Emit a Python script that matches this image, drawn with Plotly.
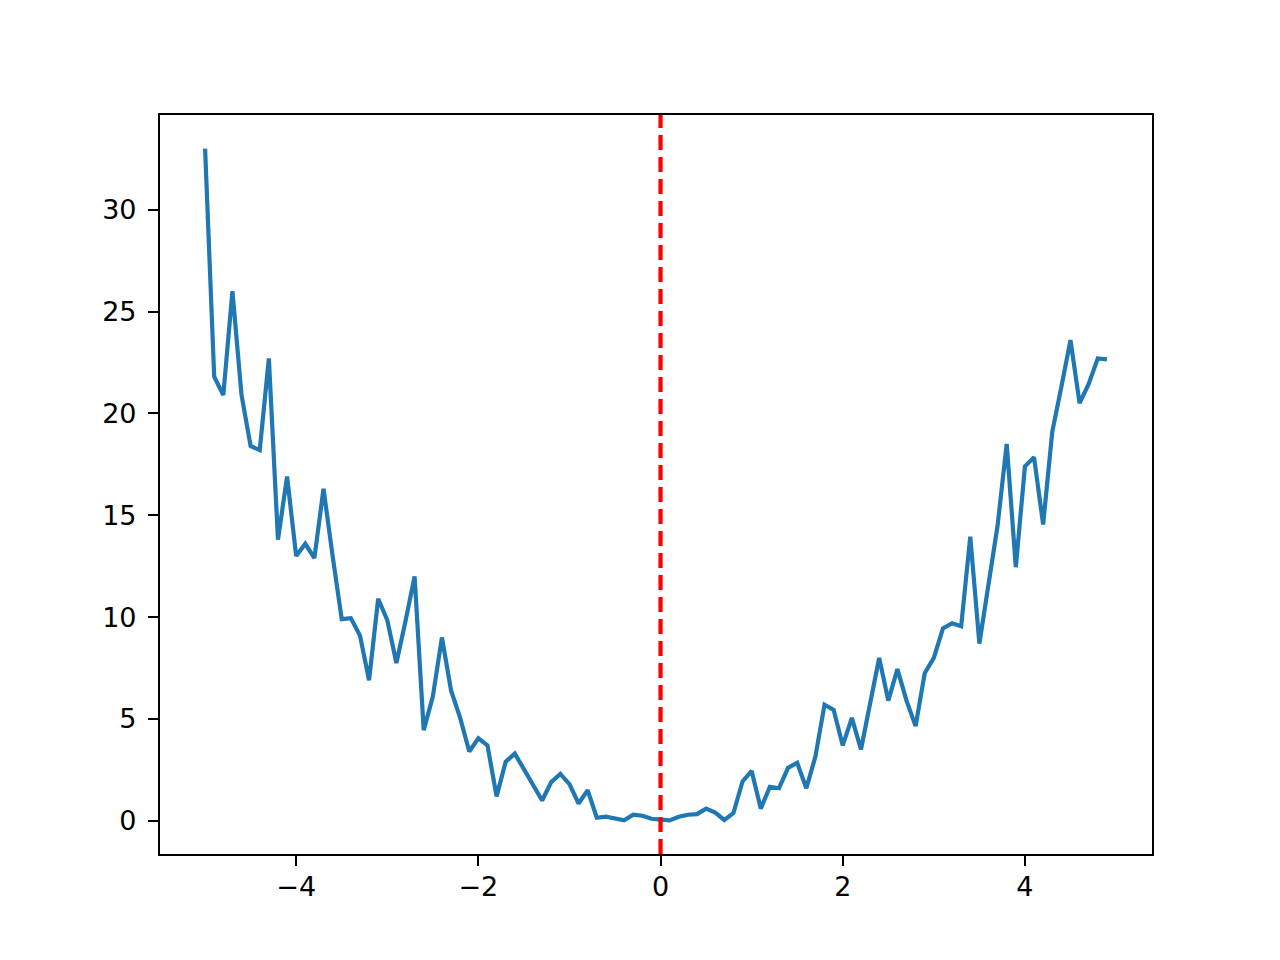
import numpy as np
import plotly.graph_objects as go

# x samples: -5.0 .. 4.9, step 0.1
x_vals = np.round(np.arange(-5.0, 5.0, 0.1), 1)

# noisy values
y_vals = [
    33.0, 21.8, 20.9, 26.0, 20.9, 18.4, 18.2, 22.7, 13.8, 16.9,   # -5.0 .. -4.1
    13.0, 13.6, 12.9, 16.3, 13.0, 9.9, 9.95, 9.1, 6.9, 10.9,      # -4.0 .. -3.1
    9.85, 7.75, 9.8, 12.0, 4.45, 6.1, 9.0, 6.4, 5.05, 3.4,        # -3.0 .. -2.1
    4.05, 3.7, 1.2, 2.9, 3.3, 2.5, 1.75, 1.0, 1.9, 2.3,           # -2.0 .. -1.1
    1.8, 0.85, 1.5, 0.15, 0.2, 0.1, 0.03, 0.3, 0.25, 0.1,         # -1.0 .. -0.1
    0.05, 0.02, 0.2, 0.3, 0.33, 0.6, 0.4, 0.04, 0.38, 1.93,       # 0.0 .. 0.9
    2.45, 0.6, 1.67, 1.6, 2.6, 2.85, 1.6, 3.15, 5.7, 5.45,        # 1.0 .. 1.9
    3.7, 5.05, 3.5, 5.8, 8.0, 5.9, 7.45, 5.9, 4.65, 7.25,         # 2.0 .. 2.9
    8.0, 9.45, 9.7, 9.55, 13.95, 8.7, 11.65, 14.5, 18.5, 12.45,   # 3.0 .. 3.9
    17.4, 17.85, 14.55, 19.1, 21.3, 23.6, 20.5, 21.45, 22.7, 22.65,  # 4.0 .. 4.9
]

x_ticks = [-4, -2, 0, 2, 4]
y_ticks = [0, 5, 10, 15, 20, 25, 30]
vline_x = 0

# matplotlib-like 5% margins around the data
xspan = x_vals.max() - x_vals.min()
yspan = max(y_vals) - min(y_vals)
xrange_ = [x_vals.min() - 0.05 * xspan, x_vals.max() + 0.05 * xspan]
yrange_ = [min(y_vals) - 0.05 * yspan, max(y_vals) + 0.05 * yspan]

fig = go.Figure()
fig.add_trace(go.Scatter(
    x=x_vals, y=y_vals, mode="lines",
    line=dict(color="#1f77b4", width=4.2),
    showlegend=False,
))
fig.add_vline(x=vline_x, line_color="red", line_width=4.2,
              line_dash="15px,7px")

axis_style = dict(
    showgrid=False, zeroline=False,
    showline=True, linecolor="black", linewidth=2.2, mirror=True,
    ticks="outside", ticklen=10, tickwidth=2.2, tickcolor="black",
    tickfont=dict(family="DejaVu Sans", size=27, color="black"),
)
fig.update_xaxes(range=xrange_, tickvals=x_ticks, ticklabelstandoff=-3, **axis_style)
fig.update_yaxes(range=yrange_, tickvals=y_ticks, ticklabelstandoff=6, **axis_style)

fig.update_layout(
    width=1280, height=960, autosize=False,
    margin=dict(l=152, r=136, t=107, b=114),
    paper_bgcolor="white", plot_bgcolor="white",
    font=dict(family="DejaVu Sans"),
)

fig.write_html("out.html")
